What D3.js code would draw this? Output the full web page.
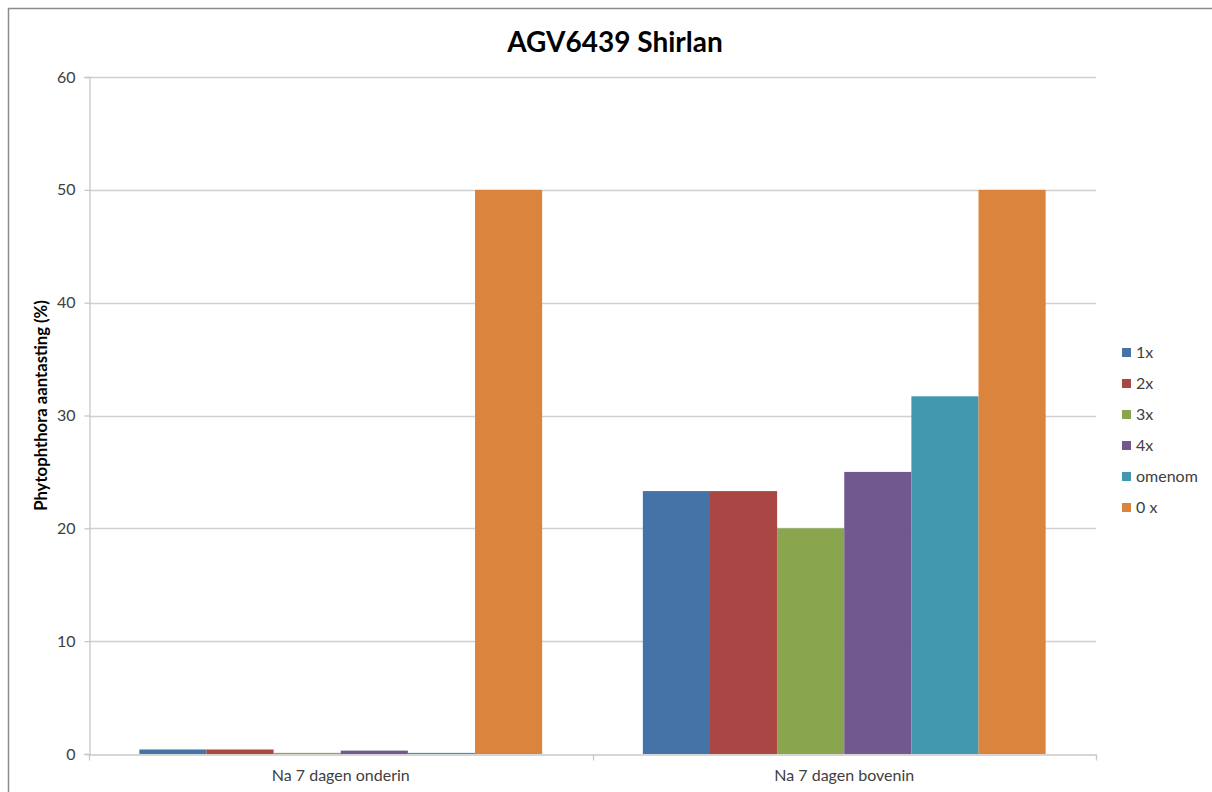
<!DOCTYPE html>
<html>
<head>
<meta charset="utf-8">
<script src="https://cdn.jsdelivr.net/npm/d3@7"></script>
<style>
  html, body { margin: 0; padding: 0; background: #fff; }
  svg { display: block; }
  text { font-family: Lato, "Open Sans", sans-serif; }
</style>
</head>
<body>
<svg id="chart" width="1212" height="792"></svg>
<script>
// Data
const categories = ["Na 7 dagen onderin", "Na 7 dagen bovenin"];
const seriesNames = ["1x", "2x", "3x", "4x", "omenom", "0 x"];
const seriesColors = ["#4572A7", "#AA4643", "#89A54E", "#71588F", "#4198AF", "#DB843D"];
const values1x = [0.4, 23.3];
const values2x = [0.4, 23.3];
const values3x = [0.1, 20.0];
const values4x = [0.3, 25.0];
const valuesOmenom = [0.1, 31.7];
const values0x = [50, 50];
const yTicks = [0, 10, 20, 30, 40, 50, 60];
const chartTitle = "AGV6439 Shirlan";
const yTitle = "Phytophthora aantasting (%)";

const seriesValues = [values1x, values2x, values3x, values4x, valuesOmenom, values0x];
const rows = categories.map((c, i) => ({
  category: c,
  bars: seriesNames.map((s, j) => ({ series: s, value: seriesValues[j][i], color: seriesColors[j] }))
}));

const svg = d3.select("#chart");
const plot = { left: 89, right: 1096, top: 77, bottom: 754 };
const tickFont = "16px";

// chart frame
svg.append("path")
  .attr("d", "M8.5,792 L8.5,8.5 L1212,8.5")
  .attr("fill", "none").attr("stroke", "#8c8c8c").attr("stroke-width", 1.5);

const x0 = d3.scaleBand().domain(categories).range([plot.left, plot.right]).paddingInner(0).paddingOuter(0);
const groupPad = 0.2; // space around each cluster
const x1 = d3.scaleBand().domain(seriesNames)
  .range([x0.bandwidth() * groupPad / 2, x0.bandwidth() * (1 - groupPad / 2)]);
const y = d3.scaleLinear().domain([0, 60]).range([plot.bottom, plot.top]);

// gridlines
svg.append("g").selectAll("line").data(yTicks.filter(t => t > 0)).join("line")
  .attr("x1", plot.left).attr("x2", plot.right)
  .attr("y1", d => Math.round(y(d)) + 0.5).attr("y2", d => Math.round(y(d)) + 0.5)
  .attr("stroke", "#d0d0d0").attr("stroke-width", 1.3);

// y axis
const yAxis = svg.append("g").attr("transform", `translate(${plot.left + 0.5},0)`)
  .call(d3.axisLeft(y).tickValues(yTicks).tickSize(5).tickPadding(9).tickFormat(d3.format("d")));
yAxis.select(".domain").attr("stroke", "#c8c8c8").attr("stroke-width", 1.3);
yAxis.selectAll(".tick line").attr("stroke", "#c8c8c8").attr("stroke-width", 1.3);
yAxis.selectAll(".tick text").attr("fill", "#404040").style("font-size", tickFont).style("font-family", "Lato, sans-serif");

// bars
const groups = svg.append("g").selectAll("g").data(rows).join("g")
  .attr("transform", d => `translate(${x0(d.category)},0)`);
groups.selectAll("rect").data(d => d.bars).join("rect")
  .attr("x", d => x1(d.series))
  .attr("width", x1.bandwidth())
  .attr("y", d => y(d.value))
  .attr("height", d => y(0) - y(d.value))
  .attr("fill", d => d.color);

// x axis
const xAxis = svg.append("g").attr("transform", `translate(0,${plot.bottom + 0.5})`)
  .call(d3.axisBottom(x0).tickSize(0).tickPadding(15));
xAxis.select(".domain").attr("stroke", "#c8c8c8").attr("stroke-width", 1.3);
xAxis.selectAll(".tick text").attr("fill", "#404040").style("font-size", tickFont).style("font-family", "Lato, sans-serif");
// category separators
const seps = [plot.left, plot.left + x0.bandwidth(), plot.right];
xAxis.append("g").selectAll("line").data(seps).join("line")
  .attr("x1", d => Math.round(d) + 0.5).attr("x2", d => Math.round(d) + 0.5)
  .attr("y1", 0).attr("y2", 6).attr("stroke", "#c8c8c8").attr("stroke-width", 1.3);

// title
svg.append("text").attr("x", 615).attr("y", 52).attr("text-anchor", "middle")
  .style("font-size", "28px").style("font-weight", "bold").attr("fill", "#000")
  .text(chartTitle);

// y title
svg.append("text")
  .attr("transform", `translate(47,${(plot.top + plot.bottom) / 2 - 10}) rotate(-90)`)
  .attr("text-anchor", "middle")
  .style("font-size", "16.7px").style("font-weight", "bold").attr("fill", "#000")
  .text(yTitle);

// legend
const legend = svg.append("g").attr("transform", "translate(1122,352)");
const items = legend.selectAll("g").data(seriesNames).join("g")
  .attr("transform", (d, i) => `translate(0,${i * 31})`);
items.append("rect").attr("x", 0).attr("y", -4).attr("width", 9).attr("height", 9)
  .attr("fill", (d, i) => seriesColors[i]);
items.append("text").attr("x", 14).attr("y", 6)
  .style("font-size", tickFont).attr("fill", "#404040").text(d => d);
</script>
</body>
</html>
